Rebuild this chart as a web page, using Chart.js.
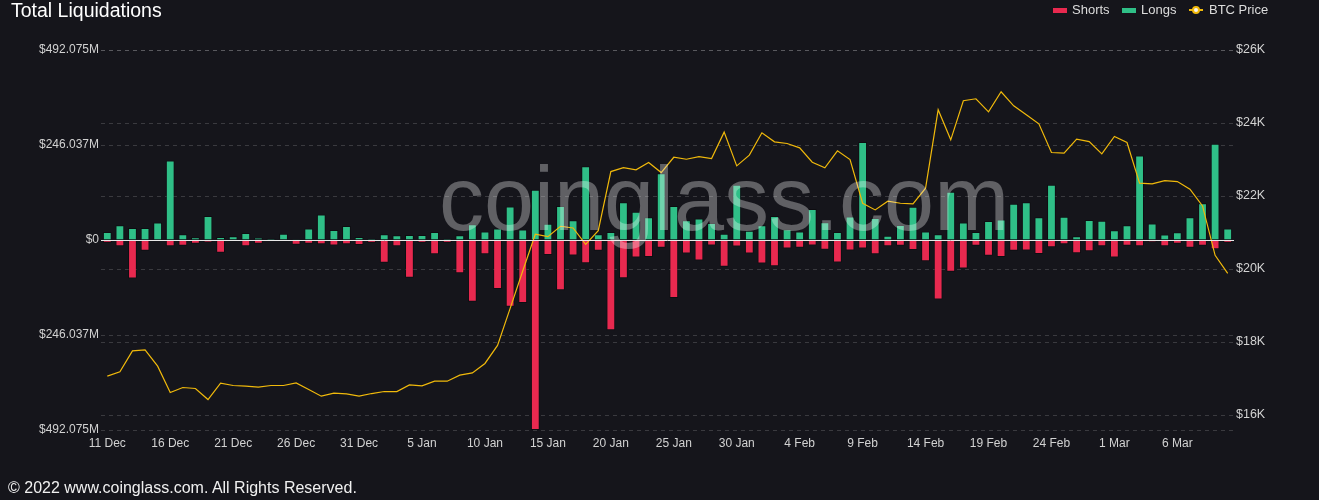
<!DOCTYPE html>
<html><head><meta charset="utf-8">
<script src="https://cdn.jsdelivr.net/npm/chart.js@4.4.0/dist/chart.umd.min.js"></script>
<style>
html,body{margin:0;padding:0;background:#15151b;}
#wrap{position:relative;width:1319px;height:500px;overflow:hidden;background:#15151b;font-family:"Liberation Sans",Arial,sans-serif;}
canvas{position:absolute;left:0;top:0;}
.t{position:absolute;white-space:nowrap;color:#fff;}
.sw{position:absolute;}
</style></head><body>
<div id="wrap">
<canvas id="c" width="1319" height="500"></canvas>
<div class="t" style="left:11px;top:1px;font-size:19.5px;line-height:19.5px;">Total Liquidations</div>
<div class="sw" style="left:1053px;top:8px;width:14px;height:5px;background:#e8294f;"></div>
<div class="t" style="left:1072px;top:3px;font-size:13px;line-height:13px;color:#dcdcdc;">Shorts</div>
<div class="sw" style="left:1122px;top:8px;width:14px;height:5px;background:#2fbf87;"></div>
<div class="t" style="left:1141px;top:3px;font-size:13px;line-height:13px;color:#dcdcdc;">Longs</div>
<div class="sw" style="left:1189px;top:9px;width:14px;height:2px;background:#f0b90b;"></div>
<div class="sw" style="left:1192px;top:6px;width:8px;height:8px;box-sizing:border-box;border:2px solid #f0b90b;border-radius:50%;background:#f5f5f5;"></div>
<div class="t" style="left:1209px;top:3px;font-size:13px;line-height:13px;color:#dcdcdc;">BTC Price</div>
<div class="t" style="left:8px;top:480px;font-size:16px;line-height:16px;color:#f0f0f0;">© 2022 www.coinglass.com. All Rights Reserved.</div>
</div>
<script>
// ---- data ----
const dates = [
 '11 Dec','12 Dec','13 Dec','14 Dec','15 Dec','16 Dec','17 Dec','18 Dec','19 Dec','20 Dec',
 '21 Dec','22 Dec','23 Dec','24 Dec','25 Dec','26 Dec','27 Dec','28 Dec','29 Dec','30 Dec',
 '31 Dec','1 Jan','2 Jan','3 Jan','4 Jan','5 Jan','6 Jan','7 Jan','8 Jan','9 Jan',
 '10 Jan','11 Jan','12 Jan','13 Jan','14 Jan','15 Jan','16 Jan','17 Jan','18 Jan','19 Jan',
 '20 Jan','21 Jan','22 Jan','23 Jan','24 Jan','25 Jan','26 Jan','27 Jan','28 Jan','29 Jan',
 '30 Jan','31 Jan','1 Feb','2 Feb','3 Feb','4 Feb','5 Feb','6 Feb','7 Feb','8 Feb',
 '9 Feb','10 Feb','11 Feb','12 Feb','13 Feb','14 Feb','15 Feb','16 Feb','17 Feb','18 Feb',
 '19 Feb','20 Feb','21 Feb','22 Feb','23 Feb','24 Feb','25 Feb','26 Feb','27 Feb','28 Feb',
 '1 Mar','2 Mar','3 Mar','4 Mar','5 Mar','6 Mar','7 Mar','8 Mar','9 Mar','10 Mar'
];
// Long liquidations, $M
const longs = [
 21,38,31,31,45,206,15,7,62,8,
 10,18,6,4,16,2,30,66,26,36,
 8,3.5,15,12,13,13,21,3.5,12,41,
 22,30,87,27,130,42,88,51,191,15,
 21,98,73,59,173,88,51,56,44,16,
 143,24,38,62,28,22,80,46,21,61,
 254,57,11,39,86,22,15,125,45,21,
 49,53,94,98,59,143,60,9.5,52,50,
 25,38,219,43,14,20,59,95,249,30
];
// Short liquidations, $M (plotted below zero)
const shorts = [
 -7,-16,-100,-28,-3.5,-16,-15,-10,-6,-33,
 -4,-16,-9.5,-2,-4,-12,-10,-11,-14,-11,
 -13,-7,-59,-16,-98,-7,-37,-7,-86,-160,
 -37,-127,-173,-163,-492.075,-39,-130,-40,-60,-28,
 -234,-99,-45,-44,-20,-150,-35,-53,-14,-69,
 -17,-35,-61,-68,-22,-20,-14,-25,-58,-27,
 -22,-37,-16,-15,-26,-55,-154,-82,-74,-15,
 -41,-44,-28,-27,-36,-19,-11,-34,-29,-16,
 -45,-15,-16,-5,-16,-9.5,-20,-15,-24,-7
];
// BTC price, USD
const btcPrice = [
 17065,17183,17759,17786,17339,16617,16754,16727,16425,16872,
 16809,16790,16763,16809,16809,16881,16700,16516,16598,16579,
 16516,16589,16644,16644,16826,16798,16927,16927,17092,17155,
 17413,17907,18922,19945,20952,20886,21171,21125,20677,21052,
 22670,22779,22716,22916,22642,23062,23007,23080,23026,23750,
 22826,23119,23731,23484,23438,23320,22927,22771,23237,22997,
 21802,21619,21857,21802,21783,22214,24362,23539,24609,24664,
 24307,24856,24472,24225,23978,23191,23173,23558,23492,23155,
 23630,23465,22351,22332,22423,22395,22187,21728,20375,19882
];
const leftTickValues = [-492.075,-246.0375,0,246.0375,492.075];
const leftTickLabels = ['$492.075M','$246.037M','$0','$246.037M','$492.075M'];
const rightTickValues = [16000,18000,20000,22000,24000,26000];
const rightTickLabels = ['$16K','$18K','$20K','$22K','$24K','$26K'];

// ---- style ----
const RED = '#e8294f', GREEN = '#2fbf87', YELLOW = '#f0b90b';
const GRID = 'rgba(255,255,255,0.16)';
const TICK = '#d2d2d2';
Chart.defaults.font.family = '"Liberation Sans", Arial, sans-serif';

const overlay = {
  id: 'overlay',
  afterDatasetsDraw(chart) {
    const {ctx, chartArea, scales} = chart;
    const y0 = Math.round(scales.y.getPixelForValue(0)) + 0.5;
    ctx.save();
    ctx.strokeStyle = '#e8e8e8';
    ctx.lineWidth = 1;
    ctx.beginPath();
    ctx.moveTo(chartArea.left, y0);
    ctx.lineTo(chartArea.right, y0);
    ctx.stroke();
    ctx.font = '90px "Liberation Sans", Arial, sans-serif';
    ctx.fillStyle = 'rgba(255,255,255,0.32)';
    ctx.textAlign = 'center';
    ctx.textBaseline = 'alphabetic';
    ctx.fillText('coinglass.com', 724, 230);
    ctx.restore();
  }
};

new Chart(document.getElementById('c'), {
  data: {
    labels: dates,
    datasets: [
      {type:'line', label:'BTC Price', data:btcPrice, yAxisID:'y1', borderColor:YELLOW,
       backgroundColor:YELLOW, borderWidth:1.2, pointRadius:0, tension:0, order:0},
      {type:'bar', label:'Shorts', data:shorts, yAxisID:'y', backgroundColor:RED,
       borderColor:'rgba(0,0,0,0.35)', borderWidth:1, barPercentage:0.7, categoryPercentage:1, order:1},
      {type:'bar', label:'Longs', data:longs, yAxisID:'y', backgroundColor:GREEN,
       borderColor:'rgba(0,0,0,0.35)', borderWidth:1, barPercentage:0.7, categoryPercentage:1, order:1}
    ]
  },
  options: {
    responsive:false,
    animation:false,
    layout:{padding:{top:50,left:0,right:0,bottom:0}},
    plugins:{legend:{display:false}, tooltip:{enabled:false}, title:{display:false}},
    scales:{
      x:{
        stacked:true,
        grid:{display:false, drawTicks:false},
        border:{display:false},
        ticks:{autoSkip:false, maxRotation:0, color:TICK, font:{size:12}, padding:6,
          callback:(v,i)=> i % 5 === 0 ? dates[i] : ''},
        afterFit(s){ s.height = 70; }
      },
      y:{
        position:'left', stacked:true, min:-492.075, max:492.075,
        afterBuildTicks(s){ s.ticks = leftTickValues.map(v=>({value:v})); },
        ticks:{color:TICK, font:{size:12}, padding:2,
          callback:(v,i)=> leftTickLabels[i]},
        grid:{drawTicks:false, color:(c)=> (c.tick && c.tick.value===0) ? 'rgba(0,0,0,0)' : GRID},
        border:{display:false, dash:[4,4]},
        afterFit(s){ s.width = 101; }
      },
      y1:{
        position:'right', min:15590, max:26000,
        afterBuildTicks(s){ s.ticks = rightTickValues.map(v=>({value:v})); },
        ticks:{color:TICK, font:{size:12.5}, padding:2,
          callback:(v,i)=> rightTickLabels[i]},
        grid:{drawTicks:false, color:GRID},
        border:{display:false, dash:[4,4]},
        afterFit(s){ s.width = 85; }
      }
    }
  },
  plugins:[overlay]
});
</script>
</body></html>
